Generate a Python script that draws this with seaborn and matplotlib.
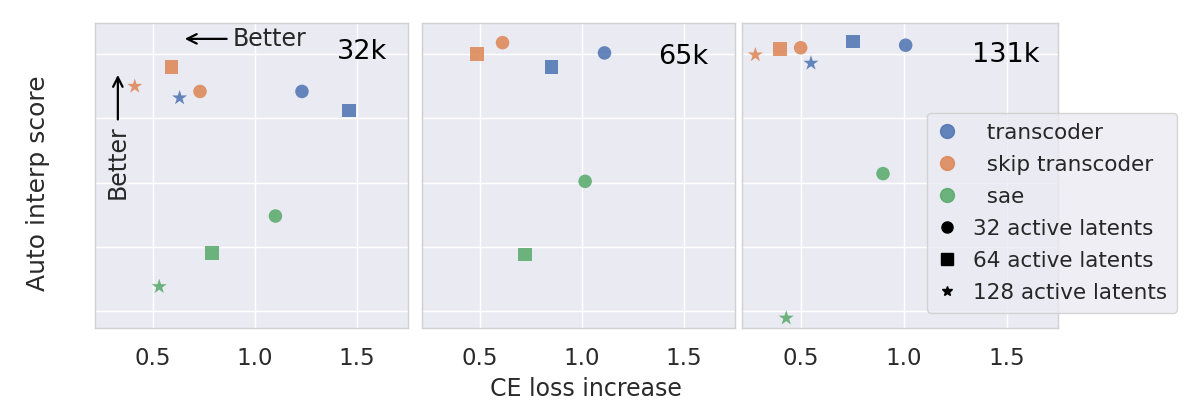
import pandas as pd
import matplotlib.pyplot as plt
from matplotlib.lines import Line2D
import seaborn as sns

sns.set_theme(style="darkgrid")
plt.rcParams['font.family'] = ['DejaVu Sans']

# dictionary sizes, one panel each
panels = ["32k", "65k", "131k"]

# points: panel, model, active latents, CE loss increase, auto interp score
panel = ["32k"] * 9 + ["65k"] * 6 + ["131k"] * 8
model = (["transcoder"] * 3 + ["skip transcoder"] * 3 + ["sae"] * 3
         + ["transcoder"] * 2 + ["skip transcoder"] * 2 + ["sae"] * 2
         + ["transcoder"] * 3 + ["skip transcoder"] * 3 + ["sae"] * 2)
latents = ([32, 64, 128] * 3
           + [32, 64] * 3
           + [32, 64, 128] * 2 + [32, 128])
ce_loss = [1.23, 1.46, 0.63, 0.73, 0.59, 0.41, 1.10, 0.79, 0.53,
           1.11, 0.85, 0.61, 0.485, 1.015, 0.72,
           1.01, 0.755, 0.55, 0.50, 0.40, 0.28, 0.90, 0.43]
auto_interp = [0.771, 0.756, 0.766, 0.771, 0.790, 0.775, 0.674, 0.645, 0.619,
               0.801, 0.790, 0.809, 0.800, 0.701, 0.644,
               0.807, 0.810, 0.793, 0.805, 0.804, 0.7995, 0.707, 0.5945]

models = ["transcoder", "skip transcoder", "sae"]
latent_counts = [32, 64, 128]

df = pd.DataFrame({
    "panel": panel,
    "model": model,
    "latents": latents,
    "ce": ce_loss,
    "score": auto_interp,
})

colors = sns.color_palette("deep")
palette = {"transcoder": colors[0], "skip transcoder": colors[1], "sae": colors[2]}
markers = {32: "o", 64: "s", 128: "*"}
sizes = {32: 95, 64: 95, 128: 130}

fig = plt.figure(figsize=(12, 4.18), dpi=100)

# axes boxes in pixels (left, right)
boxes = [(95, 408), (422, 735), (742, 1058)]
label_pos = [(0.933, 0.905), (0.914, 0.89), (0.943, 0.895)]

for i, name in enumerate(panels):
    left, right = boxes[i]
    ax = fig.add_axes([left / 1200, 1 - 328 / 418, (right - left) / 1200, 305 / 418])
    sub = df[df["panel"] == name]
    sns.scatterplot(
        data=sub, x="ce", y="score",
        hue="model", palette=palette,
        style="latents", markers=markers,
        size="latents", sizes=sizes,
        alpha=0.85, linewidth=0,
        legend=False, ax=ax,
    )
    ax.set_xlim(0.215, 1.75)
    ax.set_ylim(0.5868, 0.8243)
    ax.set_xticks([0.5, 1.0, 1.5])
    ax.set_yticks([0.60, 0.65, 0.70, 0.75, 0.80])
    ax.set_yticklabels([])
    ax.set_xlabel("")
    ax.set_ylabel("")
    ax.tick_params(axis="x", labelsize=16.5, pad=8, colors="#2a2a2a")
    for sp in ax.spines.values():
        sp.set_color("#d0d0d0")
        sp.set_linewidth(1)
    ax.text(label_pos[i][0], label_pos[i][1], name, transform=ax.transAxes,
            ha="right", va="center", fontsize=19.5, color="black")

    if i == 0:
        ax.annotate("Better", xy=(0.278, 0.948), xytext=(0.44, 0.948),
                    xycoords="axes fraction", textcoords="axes fraction",
                    ha="left", va="center", fontsize=17,
                    arrowprops=dict(arrowstyle="->", lw=1.6, color="black"))
        ax.annotate("Better", xy=(0.073, 0.839), xytext=(0.073, 0.543),
                    xycoords="axes fraction", textcoords="axes fraction",
                    ha="center", va="center", rotation=90, fontsize=17,
                    arrowprops=dict(arrowstyle="->", lw=1.6, color="black"))

fig.text(0.488, 1 - 389 / 418, "CE loss increase", ha="center", va="center",
         fontsize=17, color="#2a2a2a")
fig.text(0.032, 0.562, "Auto interp score", ha="center", va="center",
         rotation=90, fontsize=18, color="#2a2a2a")

handles = []
for m in models:
    handles.append(Line2D([], [], marker="o", linestyle="", color=palette[m],
                          alpha=0.85, markersize=10, label="  " + m))
shape_size = {32: 8, 64: 8, 128: 7}
for k in latent_counts:
    handles.append(Line2D([], [], marker=markers[k], linestyle="", color="black",
                          markersize=shape_size[k], label=f"{k} active latents"))

fig.legend(handles=handles, loc="upper left", bbox_to_anchor=(0.7725, 0.7297),
           borderaxespad=0, fontsize=15.5, handlelength=1, handletextpad=0.7,
           labelspacing=0.56, borderpad=0.45)

plt.savefig("out.png", dpi=100)
